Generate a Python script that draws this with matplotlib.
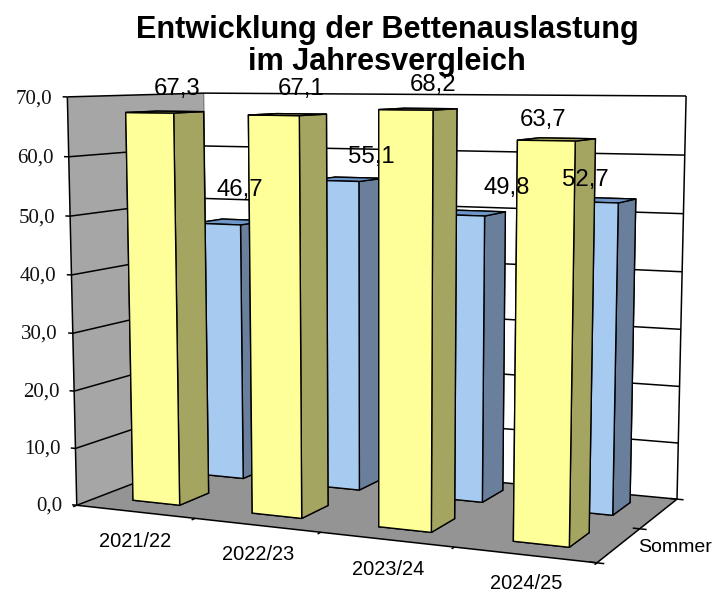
import numpy as np
import matplotlib
matplotlib.use("Agg")
import matplotlib.pyplot as plt
from mpl_toolkits.mplot3d import proj3d
from mpl_toolkits.mplot3d.art3d import Poly3DCollection, Line3DCollection

# Daten
saisons = ["2021/22", "2022/23", "2023/24", "2024/25"]
sommer = [67.3, 67.1, 68.2, 63.7]
winter = [46.7, 55.1, 49.8, 52.7]
sommer_txt = ["67,3", "67,1", "68,2", "63,7"]
winter_txt = ["46,7", "55,1", "49,8", "52,7"]
z_ticks = [0, 10, 20, 30, 40, 50, 60, 70]
z_labels = ["0,0", "10,0", "20,0", "30,0", "40,0", "50,0", "60,0", "70,0"]

# Etiketten-Versatz (x in Kategorien, z in Prozentpunkten)
sommer_dx = [0.15, 0.16, 0.17, -0.03]
winter_dx = [0.125, 0.26, 0.355, -0.04]
sommer_dz = [3.9, 4.2, 3.9, 3.0]
winter_dz = [5.9, 4.0, 4.5, 3.2]
saison_dz = [-1.0, -0.85, -0.7, -0.4]

W, H = 712, 592
X_MAX, Y_MAX, Z_MAX = 4, 2, 70

# Kamera: Raumecken -> Bildpunkte im Pixelraster der Vorlage
kamera = [
    ((0, 0, 0), (77, 505)),
    ((4, 0, 0), (597, 563)),
    ((4, 2, 0), (677, 499)),
    ((0, 2, 0), (208, 455)),
    ((0, 0, 70), (67, 97)),
    ((0, 2, 70), (204, 93)),
    ((4, 2, 70), (686, 96)),
]

fig = plt.figure(figsize=(W / 100, H / 100), dpi=100)
ax = fig.add_axes([0, 0, 1, 1], projection="3d")
ax.apply_aspect = lambda position=None: None
ax.set_axis_off()
ax.computed_zorder = False
ax.set_xlim(0, X_MAX)
ax.set_ylim(0, Y_MAX)
ax.set_zlim(0, Z_MAX)
ax.set_xticks([])
ax.set_yticks([])
ax.set_zticks([])

texte = []


def camera_matrix():
    inv = ax.transData.inverted()
    rows = []
    for (x, y, z), (px, py) in kamera:
        u, v = inv.transform((px, H - py))
        rows.append([x, y, z, 1, 0, 0, 0, 0, -u * x, -u * y, -u * z, -u])
        rows.append([0, 0, 0, 0, x, y, z, 1, -v * x, -v * y, -v * z, -v])
    # Skalierung, damit die z-Werte nicht dominieren
    s = np.array([1, 1, 1 / 20, 1] * 3)
    _, _, vt = np.linalg.svd(np.array(rows) * s)
    p = (vt[-1] * s).reshape(3, 4)
    if (p[2] @ np.array([2, 1, 35, 1])) < 0:
        p = -p
    # w wird nach Tiefe normiert, daraus die Tiefe fuer die Sortierung
    p = p / (p[2] @ np.array([2, 1, 35, 1]))
    depth = p[2] + np.array([0, 0, 0, -0.5])
    return np.array([p[0], p[1], depth, p[2]])


def wall(verts, color, zorder):
    ax.add_collection3d(Poly3DCollection([verts], facecolors=color, edgecolors="none",
                                         zorder=zorder), autolim=False)


def lines(segments, color="black", lw=1.1, zorder=2):
    ax.add_collection3d(Line3DCollection(segments, colors=color, linewidths=lw,
                                         zorder=zorder), autolim=False)


def bars(values, y0, faces, zorder):
    x0 = np.arange(len(values)) * 1.005 + 0.295
    ax.bar3d(x0, np.full(len(values), y0), np.zeros(len(values)), 0.4, 0.44, values,
             color=faces * len(values), edgecolor="black", linewidth=1.0,
             shade=False, zorder=zorder)


# Waende und Boden
wall([(0, 2, 0), (4, 2, 0), (4, 2, 70), (0, 2, 70)], "white", 1)
wall([(0, 0, 0), (0, 2, 0), (0, 2, 70), (0, 0, 70)], "#A6A6A6", 1)
wall([(0, 0, 0), (4, 0, 0), (4, 2, 0), (0, 2, 0)], "#949494", 1.5)

# Gitterlinien und Achsenstriche
gitter = []
for z, lab in zip(z_ticks, z_labels):
    gitter.append([(0, 0, z), (0, 2, z), (4, 2, z)])
    gitter.append([(-0.04, 0, z), (0, 0, z)])
    texte.append((-0.13, 0, z - 0.35, lab, dict(ha="right", fontsize=15,
                  family="Liberation Serif", color="#111111", zorder=6)))
gitter.append([(0, 0, 0), (0, 0, 70)])
gitter.append([(4, 2, 0), (4, 2, 70)])
gitter.append([(0, 0, 0), (4, 0, 0), (4, 2, 0)])
for i in range(5):
    gitter.append([(i, 0, 0), (i, -0.05, 0)])
for y in [0, 1, 2]:
    gitter.append([(3.95, y, 0), (4.05, y, 0)])
lines(gitter)
lines([[(0, 2, 0), (0, 2, 70)]], color="#808080", lw=1.0, zorder=1.8)

# Balken: Unterseite, Oberseite, vorn, hinten, links, rechts
gelb = ["#FFFF99", "#A5A55E", "#FFFF99", "#A5A55E", "#A5A55E", "#A5A562"]
blau = ["#A6CAF0", "#6F96C8", "#A6CAF0", "#6A7F9C", "#6A7F9C", "#6A7F9C"]
bars(winter, 1.31, blau, 3)
bars(sommer, 0.31, gelb, 4)

# Datenbeschriftung
for i in range(4):
    texte.append((i + 0.43 + sommer_dx[i], 0.56, sommer[i] + sommer_dz[i], sommer_txt[i],
                  dict(ha="center", fontsize=17.2, family="Liberation Sans", zorder=7)))
    texte.append((i + 0.43 + winter_dx[i], 1.56, winter[i] + winter_dz[i], winter_txt[i],
                  dict(ha="center", fontsize=17.2, family="Liberation Sans", zorder=7)))
    texte.append((0.865 + 0.953 * i, -0.6, saison_dz[i], saisons[i],
                  dict(ha="center", fontsize=14.4, family="Liberation Sans", zorder=6)))
texte.append((4.135, 0.5, 0, "Sommer",
              dict(ha="left", fontsize=14, family="Liberation Sans", zorder=6)))

fig.text(387 / W, 1 - 46 / H, "Entwicklung der Bettenauslastung\nim Jahresvergleich",
         ha="center", va="center", fontsize=22.1, fontweight="bold",
         family="Liberation Sans", linespacing=1.1, zorder=8)

M = camera_matrix()
ax.get_proj = lambda: M
for x, y, z, s, kw in texte:
    tx, ty, _ = proj3d.proj_transform(x, y, z, M)
    ax.text2D(tx, ty, s, transform=ax.transData, va="center", **kw)
fig.savefig("out.png", dpi=100)
